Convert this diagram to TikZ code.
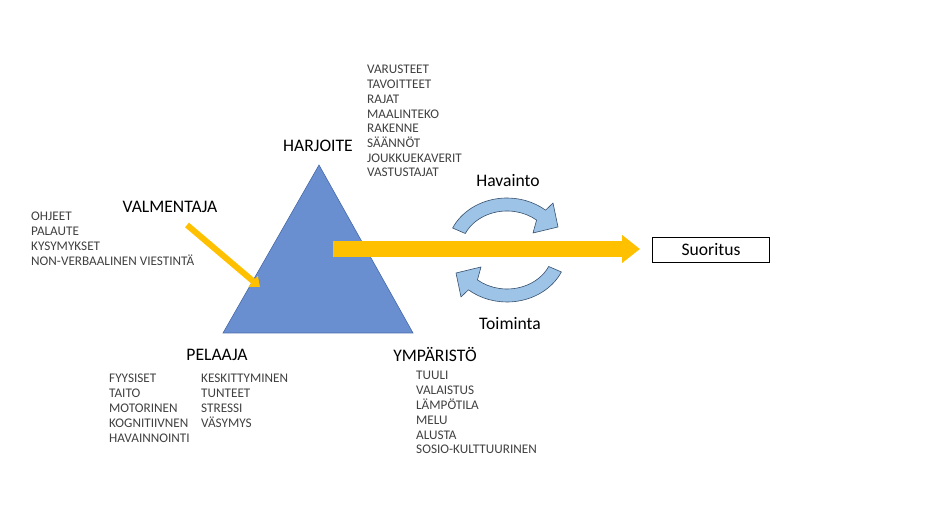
\documentclass[tikz,border=0pt]{standalone}
\usepackage{fontspec}
\setmainfont{Carlito}
\usetikzlibrary{arrows.meta}

\definecolor{prismblue}{RGB}{106,143,208}
\definecolor{prismedge}{RGB}{70,105,170}
\definecolor{loopblue}{RGB}{157,195,230}
\definecolor{loopedge}{RGB}{55,80,110}
\definecolor{arrowgold}{RGB}{255,192,0}
\definecolor{listgray}{RGB}{64,64,64}

\tikzset{
    headtext/.style={font=\fontsize{17.6}{20}\selectfont, inner sep=0},
    listtext/.style={font=\fontsize{13.2}{15}\selectfont, text=listgray, inner sep=0, anchor=base west},
    loopshape/.style={fill=loopblue, draw=loopedge, line width=0.6pt, line join=round},
    goldarrow/.style={draw=arrowgold, line width=#1}
}

\begin{document}
\begin{tikzpicture}[x=1pt, y=1pt]
    \useasboundingbox (0, 0) rectangle (943, 529);

    % harjoite triangle
    \coordinate (apex) at (319, 364);
    \coordinate (left) at (223, 196);
    \coordinate (right) at (413, 196);
    \filldraw[fill=prismblue, draw=prismedge, line width=0.6pt] (apex) -- (left) -- (right) -- cycle;

    \node[headtext] (harjoite) at (318, 383) {HARJOITE};
    \node[headtext] (valmentaja) at (170, 322) {VALMENTAJA};
    \node[headtext] (pelaaja) at (217, 174) {PELAAJA};
    \node[headtext] (ymparisto) at (435, 174) {YMPÄRISTÖ};

    \foreach \t [count=\i] in {VARUSTEET, TAVOITTEET, RAJAT, MAALINTEKO, RAKENNE, SÄÄNNÖT, JOUKKUEKAVERIT, VASTUSTAJAT}
    {\node[listtext] (harj\i) at (367, {455 - 14.7*(\i-1)}) {\t};}

    \foreach \t [count=\i] in {OHJEET, PALAUTE, KYSYMYKSET, NON-VERBAALINEN VIESTINTÄ}
    {\node[listtext] (valm\i) at (31, {308 - 15*(\i-1)}) {\t};}

    \foreach \t [count=\i] in {FYYSISET, TAITO, MOTORINEN, KOGNITIIVNEN, HAVAINNOINTI}
    {\node[listtext] (pela\i) at (109, {146 - 14.8*(\i-1)}) {\t};}
    \foreach \t [count=\i] in {KESKITTYMINEN, TUNTEET, STRESSI, VÄSYMYS}
    {\node[listtext] (pelb\i) at (201, {146 - 14.8*(\i-1)}) {\t};}

    \foreach \t [count=\i] in {TUULI, VALAISTUS, LÄMPÖTILA, MELU, ALUSTA, SOSIO-KULTTUURINEN}
    {\node[listtext] (ymp\i) at (416, {149 - 14.8*(\i-1)}) {\t};}

    % coach arrow into the triangle
    \coordinate (valmstart) at (187, 304);
    \coordinate (valmend) at (260, 242);
    \draw[goldarrow=6pt, -{Triangle[length=9pt, width=14pt]}] (valmstart) -- (valmend);

    % performance
    \node[draw, line width=1pt, minimum width=117pt, minimum height=25pt, headtext] (suoritus) at (711, 279) {Suoritus};
    \coordinate (bigstart) at (333, 280);
    \draw[goldarrow=16pt, -{Triangle[length=18pt, width=27pt]}] (bigstart) -- ([xshift=-12pt]suoritus.west |- bigstart);

    % perception / action loop
    \begin{scope}[shift={(507, 279)}]
        \filldraw[loopshape] (155:60 and 52) arc[start angle=155, end angle=50, x radius=60, y radius=52]
            -- (46, 47) -- (51, 23) -- (26, 17)
            -- (50:46 and 39) arc[start angle=50, end angle=155, x radius=46, y radius=39] -- cycle;
    \end{scope}
    \begin{scope}[shift={(507, 279)}, rotate=180]
        \filldraw[loopshape] (155:60 and 52) arc[start angle=155, end angle=50, x radius=60, y radius=52]
            -- (46, 47) -- (51, 23) -- (26, 17)
            -- (50:46 and 39) arc[start angle=50, end angle=155, x radius=46, y radius=39] -- cycle;
    \end{scope}

    \node[headtext] (havainto) at (508, 348) {Havainto};
    \node[headtext] (toiminta) at (510, 205) {Toiminta};
\end{tikzpicture}
\end{document}
